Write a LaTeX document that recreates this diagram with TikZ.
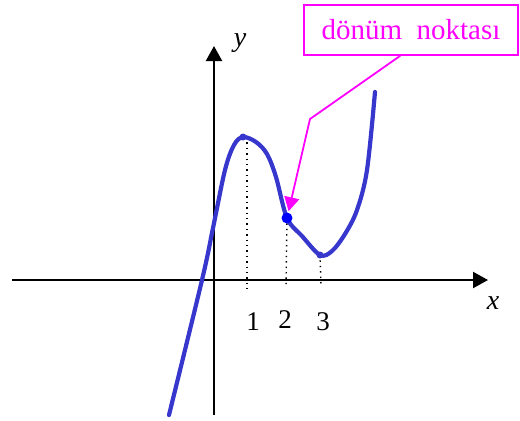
\documentclass[tikz,border=0pt]{standalone}
\usepackage{fontspec}
\setmainfont{Liberation Serif}
\usetikzlibrary{arrows.meta,calc}
\definecolor{curveblue}{RGB}{55,55,205}
\definecolor{dotblue}{RGB}{0,0,255}
\definecolor{mag}{RGB}{255,0,255}
\tikzset{
  axis/.style={line width=1.1pt,-{Triangle[length=7.5pt,width=8pt]}},
  guide/.style={dotted,line width=0.7pt},
  curve/.style={curveblue,line width=2.1pt,line cap=round,line join=round},
  lbl/.style={font=\fontsize{13.5}{16}\selectfont,inner sep=0pt},
  callout/.style={draw=mag,line width=0.8pt,text=mag,font=\fontsize{14.5}{17}\selectfont,minimum width=107pt,minimum height=25pt,inner sep=0pt},
}
\begin{document}
\begin{tikzpicture}[x=0.5pt,y=-0.5pt]
\useasboundingbox (0,0) rectangle (520,420);
% axes
\coordinate (xl) at (12,280);
\coordinate (xr) at (488,280);
\coordinate (yb) at (214,415);
\coordinate (yt) at (214,46);
\draw[axis] (xl) -- (xr);
\draw[axis] (yb) -- (yt);
\node[lbl,font=\fontsize{14}{17}\selectfont\itshape] (xlab) at (493,303) {x};
\node[lbl,font=\fontsize{14}{17}\selectfont\itshape] (ylab) at (240,43) {y};
% key points
\coordinate (mx) at (243,137);
\coordinate (ip) at (287,218);
\coordinate (mn) at (320,255);
\coordinate (m1) at (247,289);
\coordinate (m2) at (286,287);
\coordinate (m3) at (321,285);
\draw[guide] (247,137) -- (m1);
\draw[guide] (ip) -- (m2);
\draw[guide] (mn) -- (m3);
% curve
\draw[curve] plot[smooth,tension=0.55] coordinates {(169,415) (202,280) (213,228) (225,170) (234,145) (243,137) (256,142) (267,154) (276,177) (287,218) (302,236) (320,255) (332,251) (345,234) (357,210) (367,170) (375,92)};
\fill[curveblue] (mx) circle (3.5);
\fill[curveblue] (mn) circle (3.5);
\fill[dotblue] (ip) circle (5.5);
% tick labels
\node[lbl] (l1) at (253,322) {1};
\node[lbl] (l2) at (285,320) {2};
\node[lbl] (l3) at (323,322) {3};
% callout
\node[callout] (box) at (411,30) {dönüm\ \ noktası};
\coordinate (bend) at (310,119);
\draw[mag,line width=0.9pt,-{Triangle[length=7pt,width=7.5pt]},shorten >=3.5pt]
  ($(box.south west)!0.45!(box.south east)$) -- (bend) -- (ip);
\end{tikzpicture}
\end{document}
